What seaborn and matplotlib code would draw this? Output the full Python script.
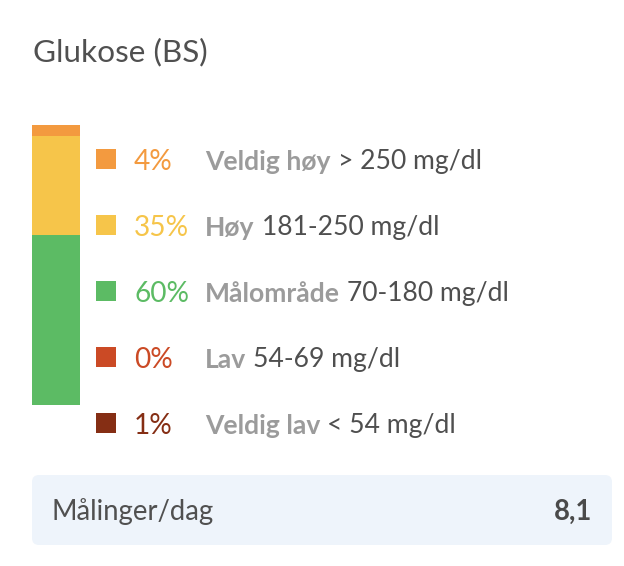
import matplotlib
matplotlib.use("Agg")
import matplotlib.pyplot as plt
from matplotlib.patches import Rectangle, FancyBboxPatch
import seaborn as sns

# ---------------- data ----------------
title = "Glukose (BS)"
categories = ["Veldig høy", "Høy", "Målområde", "Lav", "Veldig lav"]
ranges = ["> 250 mg/dl", "181-250 mg/dl", "70-180 mg/dl", "54-69 mg/dl", "< 54 mg/dl"]
percents = [4, 35, 60, 0, 1]
colors = ["#F39A3F", "#F6C54A", "#5CBB64", "#CB4A25", "#852E14"]
per_day_label = "Målinger/dag"
per_day_value = 8.1

W, H, DPI = 624, 566, 100
PX = 72 / DPI  # px -> pt

sns.set_theme(style="white")
plt.rcParams["font.family"] = ["Lato", "DejaVu Sans"]

fig = plt.figure(figsize=(W / DPI, H / DPI), dpi=DPI)
fig.patch.set_facecolor("white")

# overlay axes in pixel coordinates for the text parts
ax = fig.add_axes([0, 0, 1, 1])
ax.set_xlim(0, W)
ax.set_ylim(H, 0)
ax.axis("off")

# ---------------- stacked bar ----------------
bar_l, bar_r, bar_t, bar_b = 32, 80, 125, 405
ax_bar = fig.add_axes([bar_l / W, 1 - bar_b / H, (bar_r - bar_l) / W, (bar_b - bar_t) / H])
bottom = 0
for val, col in zip(percents[::-1], colors[::-1]):
    sns.barplot(x=[0], y=[val], bottom=bottom, color=col, width=1.0,
                saturation=1, ax=ax_bar, linewidth=0)
    bottom += val
ax_bar.set_xlim(-0.5, 0.5)
# low readings are not shown in the bar
ax_bar.set_ylim(percents[3] + percents[4], 100)
ax_bar.axis("off")

# ---------------- title ----------------
ax.text(33, 61, title, fontsize=31.5 * PX, color="#505050", va="baseline", ha="left")

# ---------------- legend rows ----------------
row0, step = 159, 66
for i, (cat, rng, p, col) in enumerate(zip(categories, ranges, percents, colors)):
    yc = row0 + i * step
    ax.add_patch(Rectangle((96, yc - 10), 20, 20, facecolor=col, edgecolor="none"))
    ax.text(134, yc + 11, f"{p}%", fontsize=28 * PX, color=col, va="baseline", ha="left")
    t = ax.text(205, yc + 11, cat, fontsize=26.5 * PX, color="#9b9b9b",
                fontweight="bold", va="baseline", ha="left")
    ax.annotate(rng, xy=(1, 0), xycoords=t, xytext=(7, 0), textcoords="offset pixels",
                fontsize=26.5 * PX, color="#4f4f4f", va="bottom", ha="left")

# ---------------- measurements box ----------------
ax.add_patch(FancyBboxPatch((32, 475), 580, 70, boxstyle="round,pad=0,rounding_size=7",
                            facecolor="#EEF4FB", edgecolor="none"))
ax.text(51, 520, per_day_label, fontsize=27.5 * PX, color="#505050", va="baseline", ha="left")
ax.text(592, 520, f"{per_day_value:.1f}".replace(".", ","), fontsize=27.5 * PX,
        color="#4a4a4a", fontweight="bold", va="baseline", ha="right")

fig.savefig("out.png", dpi=DPI, facecolor="white")
